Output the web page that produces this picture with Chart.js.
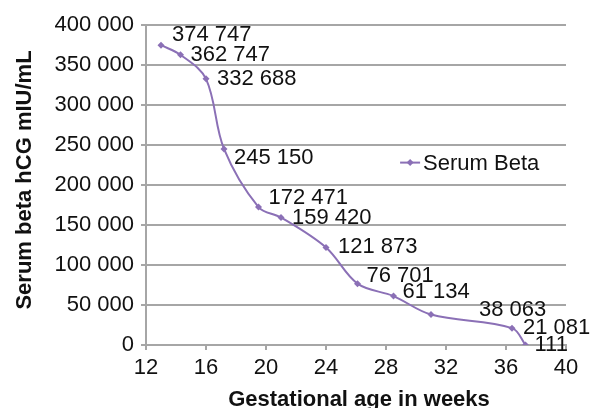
<!DOCTYPE html>
<html>
<head>
<meta charset="utf-8">
<script src="https://cdn.jsdelivr.net/npm/chart.js@4"></script>
<style>
  html, body { margin: 0; padding: 0; background: #fff; }
  #wrap { width: 593px; height: 408px; }
</style>
</head>
<body>
<div id="wrap"><canvas id="myChart" width="593" height="408"></canvas></div>
<script>
(() => {
  'use strict'

  // data
  const weeks = [13, 14.3, 16, 17.2, 19.5, 21, 24, 26.1, 28.5, 31, 36.4, 37.3]
  const hcg = [374747, 362747, 332688, 245150, 172471, 159420, 121873, 76701, 61134, 38063, 21081, 111]
  const xTicks = [12, 16, 20, 24, 28, 32, 36, 40]
  const yTicks = [0, 50000, 100000, 150000, 200000, 250000, 300000, 350000, 400000]
  const seriesName = 'Serum Beta'
  const xTitle = 'Gestational age in weeks'
  const yTitle = 'Serum beta hCG mIU/mL'

  // where each value label sits relative to its point (dx, dy)
  const labelShift = [[11, -10], [10, 0], [11, 0], [10, 9], [10, -9], [11, 0], [12, -1], [9, -8], [9, -4], [48, -5], [11, 0], [9, 0]]

  const purple = '#8b70b6'
  const gridGrey = '#a6a6a6'
  const font = 'Liberation Sans, Arial, sans-serif'

  const fmt = v => String(Math.round(v)).replace(/\B(?=(\d{3})+(?!\d))/g, ' ')

  const extras = {
    id: 'extras',
    afterDatasetsDraw (chart) {
      const ctx = chart.ctx
      const meta = chart.getDatasetMeta(0)
      const area = chart.chartArea
      ctx.save()
      // value labels
      ctx.fillStyle = '#111'
      ctx.font = '22px ' + font
      ctx.textAlign = 'left'
      ctx.textBaseline = 'middle'
      meta.data.forEach((pt, i) => {
        const [dx, dy] = labelShift[i]
        ctx.fillText(fmt(hcg[i]), pt.x + dx, pt.y + dy)
      })

      // legend inside the plot
      const ly = area.top + (area.bottom - area.top) * 0.43
      const lx = area.left + (area.right - area.left) * 0.605
      ctx.strokeStyle = purple
      ctx.lineWidth = 2
      ctx.beginPath()
      ctx.moveTo(lx, ly)
      ctx.lineTo(lx + 20, ly)
      ctx.stroke()
      ctx.fillStyle = purple
      ctx.beginPath()
      ctx.moveTo(lx + 10, ly - 3.5)
      ctx.lineTo(lx + 13.5, ly)
      ctx.lineTo(lx + 10, ly + 3.5)
      ctx.lineTo(lx + 6.5, ly)
      ctx.closePath()
      ctx.fill()
      ctx.fillStyle = '#111'
      ctx.fillText(seriesName, lx + 23, ly + 1)

      // axis titles
      ctx.font = 'bold 22px ' + font
      ctx.textAlign = 'center'
      ctx.textBaseline = 'alphabetic'
      ctx.fillText(xTitle, (area.left + area.right) / 2 + 3, 406)
      ctx.translate(31, (area.top + area.bottom) / 2 - 5)
      ctx.rotate(-Math.PI / 2)
      ctx.fillText(yTitle, 0, 0)
      ctx.restore()
    }
  }

  const ctx = document.getElementById('myChart')
  // eslint-disable-next-line no-unused-vars
  const myChart = new Chart(ctx, {
    type: 'line',
    data: {
      datasets: [{
        label: seriesName,
        data: weeks.map((w, i) => ({ x: w, y: hcg[i] })),
        borderColor: purple,
        backgroundColor: purple,
        borderWidth: 2,
        tension: 0.35,
        pointStyle: 'rectRot',
        pointRadius: 3.5,
        pointBackgroundColor: purple,
        pointBorderWidth: 0
      }]
    },
    options: {
      responsive: false,
      animation: false,
      layout: { padding: { left: 0, right: 27, top: 25, bottom: 0 } },
      plugins: {
        legend: { display: false },
        tooltip: { enabled: false }
      },
      scales: {
        x: {
          type: 'linear',
          min: 12,
          max: 40,
          afterBuildTicks: s => { s.ticks = xTicks.map(v => ({ value: v })) },
          afterFit: s => { s.height = 63 },
          border: { color: gridGrey, width: 2 },
          grid: { drawOnChartArea: false, tickLength: 5, color: gridGrey, lineWidth: 2 },
          ticks: { color: '#111', font: { size: 22, family: font }, padding: 5, maxRotation: 0 }
        },
        y: {
          type: 'linear',
          min: 0,
          max: 400000,
          afterBuildTicks: s => { s.ticks = yTicks.map(v => ({ value: v })) },
          afterFit: s => { s.width = 146 },
          border: { color: gridGrey, width: 2 },
          grid: { tickLength: 5, color: gridGrey, lineWidth: 2 },
          ticks: { color: '#111', font: { size: 22, family: font }, padding: 7, callback: v => fmt(v) }
        }
      }
    },
    plugins: [extras]
  })
})()
</script>
</body>
</html>
